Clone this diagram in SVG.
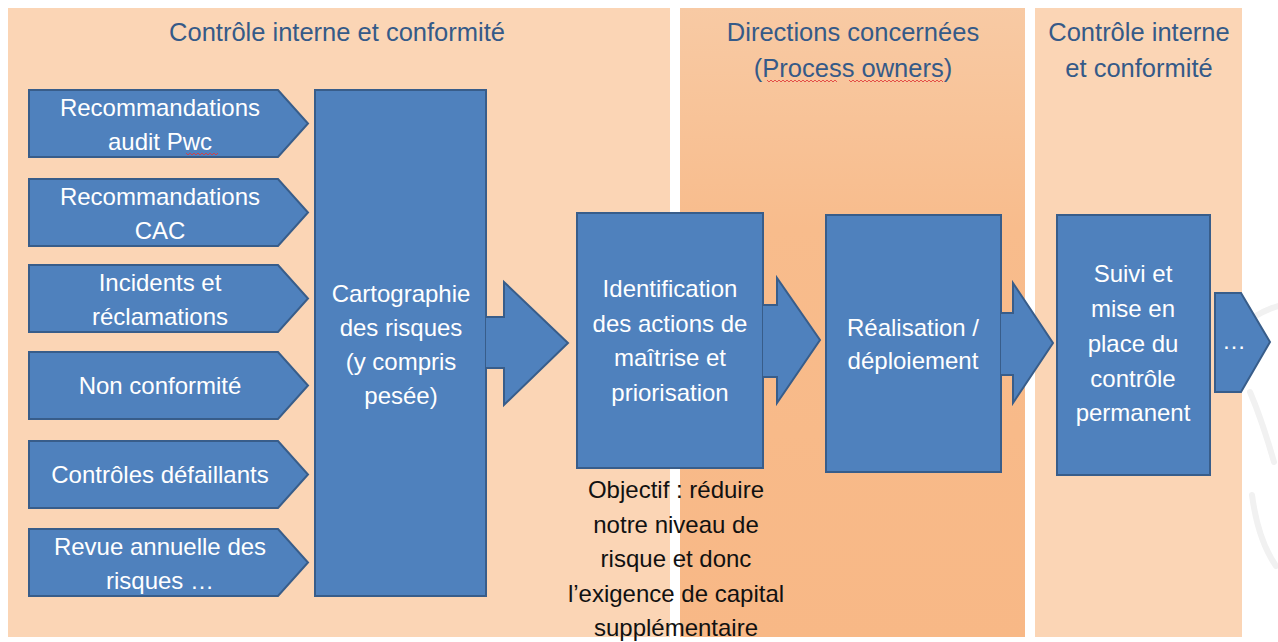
<svg xmlns="http://www.w3.org/2000/svg" width="1278" height="642" viewBox="0 0 1278 642">
  <defs>
    <linearGradient id="midGrad" x1="0" y1="0" x2="0" y2="1">
      <stop offset="0" stop-color="#F8CAA4"/>
      <stop offset="0.35" stop-color="#F8BC8C"/>
      <stop offset="1" stop-color="#F8B886"/>
    </linearGradient>
  </defs>
  <style>
    .panel { fill: #FBD5B5; }
    .box { fill: #4F81BD; stroke: #385D8A; stroke-width: 2; stroke-linejoin: miter; }
    .t { font-family: "Liberation Sans", Arial, sans-serif; font-size: 24px; fill: #FFFFFF; text-anchor: middle; }
    .title { font-family: "Liberation Sans", Arial, sans-serif; font-size: 25.5px; fill: #355A88; text-anchor: middle; }
    .note { font-family: "Liberation Sans", Arial, sans-serif; font-size: 24px; fill: #111111; text-anchor: middle; }
    .squiggle { fill: none; stroke: #E03A3A; stroke-width: 1; opacity: 0.85; }
    .wm { fill: none; stroke: #F1F1F1; stroke-width: 6; stroke-linecap: round; }
  </style>

  <rect x="0" y="0" width="1278" height="642" fill="#FFFFFF"/>

  <!-- watermark -->
  <g id="watermark">
    <path class="wm" d="M1252,318 Q1265,310 1278,306"/>
    <path class="wm" d="M1250,392 Q1262,420 1274,462"/>
    <path class="wm" d="M1252,495 Q1258,540 1276,566"/>
  </g>

  <!-- swimlane panels -->
  <g id="lane-controle-1">
    <rect class="panel" x="8" y="8" width="662" height="629"/>
    <text class="title" x="337" y="41">Contrôle interne et conformité</text>
  </g>
  <g id="lane-directions">
    <rect x="680" y="8" width="345" height="629" fill="url(#midGrad)"/>
    <text class="title" x="853" y="41">Directions concernées</text>
    <text class="title" x="853" y="77">(Process owners)</text>
    <path class="squiggle" d="M767,80 l2,2 l2,-2 l2,2 l2,-2 l2,2 l2,-2 l2,2 l2,-2 l2,2 l2,-2 l2,2 l2,-2 l2,2 l2,-2 l2,2 l2,-2 l2,2 l2,-2 l2,2 l2,-2 l2,2 l2,-2 l2,2 l2,-2 l2,2 l2,-2 l2,2 l2,-2 l2,2 l2,-2 l2,2 l2,-2 l2,2 l2,-2 l2,2"/>
    <path class="squiggle" d="M849,80 l2,2 l2,-2 l2,2 l2,-2 l2,2 l2,-2 l2,2 l2,-2 l2,2 l2,-2 l2,2 l2,-2 l2,2 l2,-2 l2,2 l2,-2 l2,2 l2,-2 l2,2 l2,-2 l2,2 l2,-2 l2,2 l2,-2 l2,2 l2,-2 l2,2 l2,-2 l2,2 l2,-2 l2,2 l2,-2 l2,2 l2,-2 l2,2 l2,-2 l2,2 l2,-2 l2,2 l2,-2 l2,2 l2,-2 l2,2 l2,-2 l2,2 l2,-2 l2,2"/>
  </g>
  <g id="lane-controle-2">
    <rect class="panel" x="1035" y="8" width="207" height="629"/>
    <text class="title" x="1139" y="41">Contrôle interne</text>
    <text class="title" x="1139" y="77">et conformité</text>
  </g>

  <!-- input arrows -->
  <g id="in-audit-pwc">
    <path class="box" d="M29,90 H278 L308,123.5 L278,157 H29 Z"/>
    <text class="t" x="160" y="116">Recommandations</text>
    <text class="t" x="160" y="150">audit Pwc</text>
    <path class="squiggle" d="M186,153 l2,2 l2,-2 l2,2 l2,-2 l2,2 l2,-2 l2,2 l2,-2 l2,2 l2,-2 l2,2 l2,-2 l2,2 l2,-2 l2,2 l2,-2"/>
  </g>
  <g id="in-cac">
    <path class="box" d="M29,179 H278 L308,212.5 L278,246 H29 Z"/>
    <text class="t" x="160" y="205">Recommandations</text>
    <text class="t" x="160" y="239">CAC</text>
  </g>
  <g id="in-incidents">
    <path class="box" d="M29,265 H278 L308,298.5 L278,332 H29 Z"/>
    <text class="t" x="160" y="291">Incidents et</text>
    <text class="t" x="160" y="325">réclamations</text>
  </g>
  <g id="in-non-conformite">
    <path class="box" d="M29,352 H278 L308,385.5 L278,419 H29 Z"/>
    <text class="t" x="160" y="394">Non conformité</text>
  </g>
  <g id="in-controles">
    <path class="box" d="M29,441 H278 L308,474.5 L278,508 H29 Z"/>
    <text class="t" x="160" y="483">Contrôles défaillants</text>
  </g>
  <g id="in-revue">
    <path class="box" d="M29,529 H278 L308,562.5 L278,596 H29 Z"/>
    <text class="t" x="160" y="555">Revue annuelle des</text>
    <text class="t" x="160" y="589">risques …</text>
  </g>

  <!-- process boxes -->
  <g id="node-cartographie">
    <rect class="box" x="315" y="90" width="171" height="506"/>
    <text class="t" x="401" y="302">Cartographie</text>
    <text class="t" x="401" y="336">des risques</text>
    <text class="t" x="401" y="370">(y compris</text>
    <text class="t" x="401" y="404">pesée)</text>
  </g>
  <g id="node-identification">
    <rect class="box" x="577" y="213" width="186" height="255"/>
    <text class="t" x="670" y="297">Identification</text>
    <text class="t" x="670" y="332">des actions de</text>
    <text class="t" x="670" y="366">maîtrise et</text>
    <text class="t" x="670" y="401">priorisation</text>
  </g>
  <g id="node-realisation">
    <rect class="box" x="826" y="215" width="175" height="257"/>
    <text class="t" x="913" y="336">Réalisation /</text>
    <text class="t" x="913" y="369">déploiement</text>
  </g>
  <g id="node-suivi">
    <rect class="box" x="1057" y="215" width="153" height="260"/>
    <text class="t" x="1133" y="282">Suivi et</text>
    <text class="t" x="1133" y="317">mise en</text>
    <text class="t" x="1133" y="352">place du</text>
    <text class="t" x="1133" y="387">contrôle</text>
    <text class="t" x="1133" y="421">permanent</text>
  </g>
  <g id="node-ellipsis">
    <path class="box" d="M1215,293 H1241 L1270,342 L1241,392 H1215 Z"/>
    <text class="t" x="1234" y="349">…</text>
  </g>

  <!-- objective note -->
  <g id="note-objectif">
    <text class="note" x="676" y="498">Objectif : réduire</text>
    <text class="note" x="676" y="533">notre niveau de</text>
    <text class="note" x="676" y="567">risque et donc</text>
    <text class="note" x="676" y="602">l’exigence de capital</text>
    <text class="note" x="676" y="636">supplémentaire</text>
  </g>

  <!-- connectors: block arrows -->
  <g id="connectors">
    <path class="box" d="M486,317 H504 V282 L568,343 L504,405 V368 H486"/>
    <path class="box" d="M763,305 H777 V278 L820,340 L777,403 V377 H763"/>
    <path class="box" d="M1001,313 H1013 V283 L1053,343 L1013,403 V375 H1001"/>
  </g>
</svg>
